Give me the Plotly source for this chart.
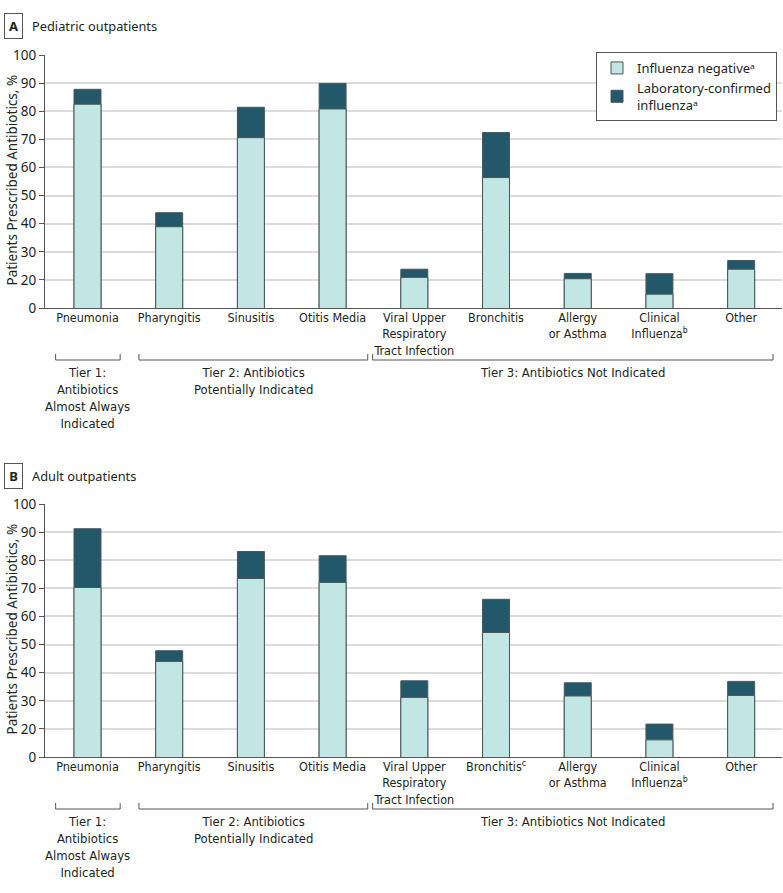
import plotly.graph_objects as go

W, H = 783, 893

categories = ["Pneumonia", "Pharyngitis", "Sinusitis", "Otitis Media",
              "Viral Upper<br>Respiratory<br>Tract Infection", "Bronchitis",
              "Allergy<br>or Asthma", "Clinical<br>Influenza<sup>b</sup>", "Other"]
categories_b = ["Pneumonia", "Pharyngitis", "Sinusitis", "Otitis Media",
                "Viral Upper<br>Respiratory<br>Tract Infection", "Bronchitis<sup>c</sup>",
                "Allergy<br>or Asthma", "Clinical<br>Influenza<sup>b</sup>", "Other"]

# Panel A: pediatric outpatients (% prescribed antibiotics)
ped_negative = [82.5, 38.9, 70.6, 80.8, 20.9, 56.4, 20.4, 14.9, 23.8]
ped_confirmed = [87.8, 43.9, 81.4, 89.9, 23.8, 72.4, 22.3, 22.2, 26.9]
# Panel B: adult outpatients
adult_negative = [70.3, 44.0, 73.5, 72.1, 31.2, 54.3, 31.7, 16.1, 31.9]
adult_confirmed = [91.2, 47.8, 83.1, 81.6, 37.1, 66.1, 36.4, 21.7, 36.9]

ytick_vals = [10, 20, 30, 40, 50, 60, 70, 80, 90, 100]
ytick_text = ["0", "20", "30", "40", "50", "60", "70", "80", "90", "100"]

tiers = [("Tier 1:<br>Antibiotics<br>Almost Always<br>Indicated", 0, 0),
         ("Tier 2: Antibiotics<br>Potentially Indicated", 1, 3),
         ("Tier 3: Antibiotics Not Indicated", 4, 8)]

LIGHT = "#c2e6e4"
DARK = "#22586a"
OUTLINE = "#4a5659"
TXT = "#231f20"
COND = "DejaVu Sans Condensed, Liberation Sans Narrow, sans-serif"
REG = "Noto Sans, Open Sans, sans-serif"

def py(p):
    return 1 - p / H

fig = go.Figure()
idx = list(range(len(categories)))
for k, (neg, conf, show) in enumerate([(ped_negative, ped_confirmed, True),
                                       (adult_negative, adult_confirmed, False)]):
    xa = "x" if k == 0 else "x2"
    ya = "y" if k == 0 else "y2"
    fig.add_trace(go.Bar(x=idx, y=conf, width=0.33, xaxis=xa, yaxis=ya,
                         marker=dict(color=DARK, line=dict(color=OUTLINE, width=1)),
                         name="Laboratory-confirmed<br>influenzaᵃ",
                         showlegend=show, legendgroup="conf", hoverinfo="y"))
    fig.add_trace(go.Bar(x=idx, y=neg, width=0.33, xaxis=xa, yaxis=ya,
                         marker=dict(color=LIGHT, line=dict(color=OUTLINE, width=1)),
                         name="Influenza negativeᵃ",
                         showlegend=show, legendgroup="neg", hoverinfo="y"))

xdom = [45 / W, 782 / W]
panels = [dict(top=55, bottom=308, labels=categories, header="A", title="Pediatric outpatients", hy=26),
          dict(top=504, bottom=757, labels=categories_b, header="B", title="Adult outpatients", hy=476)]

layout = dict(width=W, height=H, margin=dict(l=0, r=0, t=0, b=0, autoexpand=False),
              plot_bgcolor="white", paper_bgcolor="white", barmode="overlay",
              font=dict(family=REG, color=TXT, size=13),
              showlegend=True,
              legend=dict(x=777 / W, y=py(52), xanchor="right", yanchor="top",
                          bordercolor="#555555", borderwidth=1, bgcolor="white",
                          traceorder="reversed", font=dict(family=REG, size=13, color=TXT),
                          itemwidth=30, tracegroupgap=12))

annotations = []
shapes = []
for k, p in enumerate(panels):
    xname = "xaxis" if k == 0 else "xaxis2"
    yname = "yaxis" if k == 0 else "yaxis2"
    layout[xname] = dict(domain=xdom, range=[-0.52, 8.5], tickmode="array", tickvals=idx,
                         ticktext=p["labels"], showline=True, linecolor="#555555", linewidth=1.2,
                         showgrid=False, zeroline=False, ticks="", automargin=False,
                         ticklabelstandoff=-2,
                         tickfont=dict(family=COND, size=12.5, color=TXT),
                         anchor="y" if k == 0 else "y2", fixedrange=True)
    layout[yname] = dict(domain=[py(p["bottom"]), py(p["top"])], range=[10, 100],
                         tickmode="array", tickvals=ytick_vals, ticktext=ytick_text,
                         showline=True, linecolor="#555555", linewidth=1.2,
                         ticks="outside", ticklen=5, tickcolor="#555555", automargin=False,
                         showgrid=True, gridcolor="#dcdcdc", gridwidth=1.5, zeroline=False,
                         tickfont=dict(family=REG, size=13.5, color=TXT),
                         anchor="x" if k == 0 else "x2", fixedrange=True)
    # y axis title
    annotations.append(dict(x=11 / W, y=py((p["top"] + p["bottom"]) / 2 - 1), xref="paper", yref="paper",
                            text="Patients Prescribed Antibiotics, %", textangle=-90, showarrow=False,
                            font=dict(family=REG, size=13.5, color=TXT), xanchor="center", yanchor="middle"))
    # header
    annotations.append(dict(x=13 / W, y=py(p["hy"]), xref="paper", yref="paper", text="<b>" + p["header"] + "</b>",
                            showarrow=False, bordercolor="#555555", borderwidth=1, borderpad=3,
                            font=dict(family=REG, size=13, color=TXT), xanchor="center", yanchor="middle",
                            width=11))
    annotations.append(dict(x=30 / W, y=py(p["hy"]), xref="paper", yref="paper", text=p["title"],
                            showarrow=False, font=dict(family=REG, size=12.8, color=TXT),
                            xanchor="left", yanchor="middle"))
    # tier brackets
    bline = p["bottom"] + 52
    pads = [(0.39, 0.40), (0.37, 0.43), (0.51, 0.39)]
    xr = "x" if k == 0 else "x2"
    for (label, i0, i1), (pl, pr) in zip(tiers, pads):
        x0, x1 = i0 - pl, i1 + pr
        shapes.append(dict(type="path", xref=xr, yref="paper",
                           path=f"M{x0},{py(bline - 6)} L{x0},{py(bline)} L{x1},{py(bline)} L{x1},{py(bline - 6)}",
                           line=dict(color="#555555", width=1)))
        annotations.append(dict(x=(x0 + x1) / 2, y=py(bline + 3), xref=xr, yref="paper", text=label,
                                showarrow=False, font=dict(family=COND, size=13, color=TXT),
                                xanchor="center", yanchor="top", align="center"))

layout["annotations"] = annotations
layout["shapes"] = shapes
fig.update_layout(**layout)
fig.write_html("out.html", config={"displayModeBar": False},
               post_script="document.body.style.margin='0';")
